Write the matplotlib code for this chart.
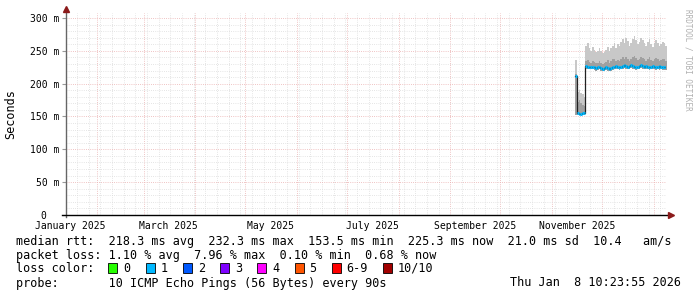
import numpy as np
import pandas as pd
import matplotlib
matplotlib.use("Agg")
import matplotlib.pyplot as plt
import matplotlib.dates as mdates
from matplotlib.patches import Rectangle

plt.rcParams['font.family'] = ['DejaVu Sans Mono', 'DejaVu Sans']

# graph window: 360 days ending at the probe timestamp
t_end = pd.Timestamp("2026-01-08 10:23:55")
t_start = t_end - pd.Timedelta(days=360)

# daily samples (only data from mid November on)
days = pd.date_range("2025-11-15", "2026-01-08", freq="D")

median_ms = [212, 155, 154, 154, 155, 156, 227, 226, 226, 225, 226, 225, 224, 225, 226, 224,
             223, 224, 225, 224, 223, 224, 225, 226, 227, 226, 225, 226, 227, 228, 227, 226,
             227, 228, 227, 226, 225, 226, 227, 228, 227, 226, 227, 226, 225, 226, 227,
             226, 225, 226, 227, 226, 225, 226, 225]
smoke_lo = [152, 152, 152, 153, 152, 153, 222, 222, 223, 222, 222, 221, 220, 221, 222, 220,
            219, 220, 221, 220, 219, 220, 221, 222, 223, 222, 221, 222, 223, 224, 223, 222,
            223, 224, 223, 222, 221, 222, 223, 224, 223, 222, 223, 222, 221, 222, 223,
            222, 221, 222, 221, 222, 221, 221, 221]
smoke_mid = [215, 172, 175, 170, 168, 166, 234, 236, 233, 232, 235, 233, 231, 232, 235, 232,
             230, 231, 233, 236, 232, 234, 237, 238, 234, 236, 235, 238, 240, 237, 241, 238,
             235, 237, 240, 242, 239, 236, 238, 241, 239, 237, 235, 238, 240, 236, 234,
             237, 239, 237, 235, 236, 238, 237, 235]
smoke_hi = [236, 188, 190, 186, 184, 180, 258, 262, 255, 250, 256, 252, 248, 250, 254, 250,
            246, 248, 252, 256, 250, 254, 258, 262, 255, 260, 258, 264, 268, 262, 270, 265,
            258, 262, 268, 272, 266, 260, 264, 270, 266, 262, 258, 264, 268, 260, 256,
            262, 266, 262, 258, 260, 264, 262, 258]

y_ticks = [0, 50, 100, 150, 200, 250, 300]
y_labels = ["0  ", "50 m", "100 m", "150 m", "200 m", "250 m", "300 m"]
x_label_dates = pd.to_datetime(["2025-01-16", "2025-03-16", "2025-05-16",
                                "2025-07-16", "2025-09-16", "2025-11-16"])
x_labels = ["January 2025", "March 2025", "May 2025", "July 2025",
            "September 2025", "November 2025"]

loss_labels = ["0", "1", "2", "3", "4", "5", "6-9", "10/10"]
loss_colors = ["#26ff00", "#00b8ff", "#0059ff", "#7e00ff", "#ff00ff",
               "#ff5500", "#ff0000", "#a10000"]

W, H = 697, 297
fig = plt.figure(figsize=(W / 100, H / 100), dpi=100)
fig.patch.set_facecolor("white")
ax = fig.add_axes([66 / W, 82 / H, 600 / W, 202 / H])


def px(x, y):
    return x / W, 1 - y / H


# smoke + median
x0 = mdates.date2num(days.to_pydatetime())
edges = np.append(x0, x0[-1] + 1)
step = lambda v: np.append(v, v[-1])
ax.fill_between(edges, step(smoke_lo), step(smoke_hi), step="post",
                color="#c8c8c8", lw=0, zorder=2)
ax.fill_between(edges, step(smoke_lo), step(smoke_mid), step="post",
                color="#a0a0a0", lw=0, zorder=3)
ax.step(edges, step(median_ms), where="post", color="#222222", lw=0.9, zorder=4)
ax.hlines(median_ms, x0, x0 + 1, color=loss_colors[1], lw=2.2, zorder=5)

ax.set_xlim(t_start, t_end)
ax.set_ylim(0, 307.6)

# grid: weekly / monthly verticals, 10 / 50 horizontals
ax.xaxis.set_major_locator(mdates.MonthLocator())
ax.xaxis.set_minor_locator(mdates.WeekdayLocator(byweekday=mdates.MO))
ax.set_yticks(y_ticks)
ax.set_yticks(np.arange(0, 301, 10), minor=True)
ax.set_yticklabels(y_labels)
ax.tick_params(axis="x", which="both", length=0, labelbottom=False)
ax.tick_params(axis="y", which="major", length=3, color="#999999", labelsize=7, pad=2)
ax.tick_params(axis="y", which="minor", length=0)
ax.grid(which="minor", color="#dcdcdc", lw=0.6, ls=(0, (1, 1.6)), zorder=1)
ax.grid(which="major", color="#eab0b0", lw=0.6, ls=(0, (1, 1.6)), zorder=1)
ax.set_axisbelow(True)

sec = ax.secondary_xaxis("bottom")
sec.set_xticks(x_label_dates)
sec.set_xticklabels(x_labels)
sec.tick_params(length=0, labelsize=7, pad=4)
sec.spines["bottom"].set_visible(False)

for s in ax.spines.values():
    s.set_visible(False)
ax.plot([0, 0], [-0.01, 1.02], color="#666666", lw=1, transform=ax.transAxes,
        clip_on=False, zorder=6)
ax.plot([-0.007, 1.005], [0, 0], color="black", lw=1, transform=ax.transAxes,
        clip_on=False, zorder=6)
ax.plot(0, 1.02, marker="^", color="#8b1a1a", ms=4, transform=ax.transAxes,
        clip_on=False, zorder=7)
ax.plot(1.008, 0, marker=">", color="#8b1a1a", ms=4, transform=ax.transAxes,
        clip_on=False, zorder=7)

fig.text(*px(11, 114), "Seconds", rotation=90, ha="center", va="center", fontsize=8.5)
fig.text(*px(688, 60), "RRDTOOL / TOBI OETIKER", rotation=270, ha="center",
         va="center", fontsize=5.5, color="#b0b0b0")

# legend
fs = 8.47
fig.text(*px(16, 241), "median rtt:  218.3 ms avg  232.3 ms max  153.5 ms min  "
         "225.3 ms now  21.0 ms sd  10.4   am/s", fontsize=fs, va="center")
fig.text(*px(16, 255), "packet loss: 1.10 % avg  7.96 % max  0.10 % min  0.68 % now",
         fontsize=fs, va="center")
fig.text(*px(16, 268), "loss color:", fontsize=fs, va="center")
box_x = [108, 145.5, 183, 220, 257, 294.5, 331.5, 383]
for bx, lab, col in zip(box_x, loss_labels, loss_colors):
    bl, bt = px(bx, 263)
    fig.patches.append(Rectangle((bl, bt - 10 / H), 9 / W, 10 / H, facecolor=col,
                                 edgecolor="black", lw=0.6, transform=fig.transFigure))
    fig.text(*px(bx + 15, 268), lab, fontsize=fs, va="center")
fig.text(*px(16, 283), "probe:       10 ICMP Echo Pings (56 Bytes) every 90s",
         fontsize=fs, va="center")
fig.text(*px(681, 283), "Thu Jan  8 10:23:55 2026", fontsize=fs, va="center", ha="right")

fig.savefig("out.png", dpi=100, facecolor="white")
